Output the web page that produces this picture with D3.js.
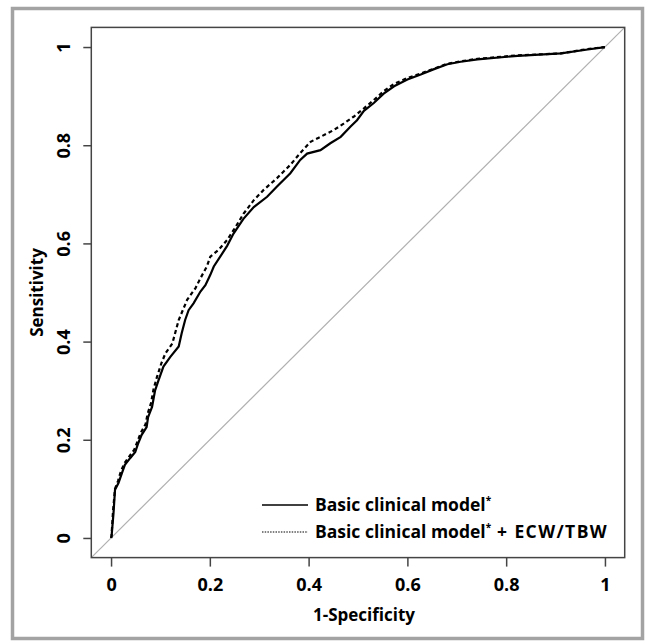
<!DOCTYPE html>
<html>
<head>
<meta charset="utf-8">
<script src="https://cdn.jsdelivr.net/npm/d3@7"></script>
<style>
  body { margin: 0; background: #fff; }
  svg text { font-family: 'Open Sans', sans-serif; font-weight: bold; }
</style>
</head>
<body>
<div id="chart"></div>
<script>
// ROC curves (1-specificity vs sensitivity)
var basicFpr = [0, 0.001, 0.005, 0.008, 0.015, 0.022, 0.028, 0.039, 0.049, 0.055, 0.062, 0.072, 0.075, 0.083, 0.089, 0.095, 0.106, 0.120, 0.137, 0.143, 0.150, 0.157, 0.167, 0.181, 0.191, 0.201, 0.208, 0.221, 0.235, 0.248, 0.268, 0.289, 0.316, 0.336, 0.363, 0.383, 0.397, 0.424, 0.444, 0.465, 0.485, 0.498, 0.512, 0.532, 0.552, 0.573, 0.600, 0.627, 0.654, 0.681, 0.708, 0.742, 0.823, 0.911, 0.965, 1.0];
var basicTpr = [0, 0.003, 0.051, 0.098, 0.112, 0.132, 0.149, 0.163, 0.175, 0.193, 0.210, 0.226, 0.246, 0.267, 0.300, 0.318, 0.349, 0.369, 0.390, 0.417, 0.444, 0.464, 0.478, 0.502, 0.515, 0.536, 0.553, 0.573, 0.595, 0.620, 0.650, 0.674, 0.695, 0.716, 0.743, 0.770, 0.783, 0.790, 0.804, 0.817, 0.838, 0.851, 0.870, 0.886, 0.905, 0.920, 0.934, 0.944, 0.955, 0.965, 0.970, 0.975, 0.982, 0.987, 0.995, 1.0];

var ecwFpr = [0, 0.001, 0.004, 0.008, 0.014, 0.020, 0.027, 0.037, 0.047, 0.054, 0.060, 0.070, 0.074, 0.081, 0.086, 0.093, 0.102, 0.110, 0.124, 0.137, 0.154, 0.171, 0.181, 0.194, 0.201, 0.218, 0.235, 0.250, 0.268, 0.289, 0.309, 0.336, 0.363, 0.383, 0.404, 0.424, 0.451, 0.471, 0.491, 0.512, 0.532, 0.552, 0.573, 0.600, 0.627, 0.654, 0.681, 0.708, 0.742, 0.823, 0.911, 0.965, 1.0];
var ecwTpr = [0, 0.005, 0.055, 0.100, 0.116, 0.136, 0.152, 0.166, 0.180, 0.198, 0.214, 0.232, 0.253, 0.275, 0.303, 0.328, 0.356, 0.376, 0.396, 0.444, 0.485, 0.509, 0.529, 0.553, 0.573, 0.587, 0.607, 0.630, 0.660, 0.688, 0.709, 0.733, 0.760, 0.784, 0.807, 0.817, 0.831, 0.844, 0.858, 0.875, 0.892, 0.910, 0.925, 0.937, 0.946, 0.956, 0.966, 0.971, 0.976, 0.983, 0.987, 0.996, 1.0];

var xTicks = [0, 0.2, 0.4, 0.6, 0.8, 1];
var yTicks = [0, 0.2, 0.4, 0.6, 0.8, 1];
var seriesNames = ['Basic clinical model', 'Basic clinical model'];
var seriesSuffix = ['', ' + ECW/TBW'];

var width = 646, height = 641;
var plot = {left: 91.3, right: 624.7, top: 27.4, bottom: 557.6};

var svg = d3.select('#chart').append('svg')
  .attr('width', width)
  .attr('height', height);

// grey outer frame
svg.append('rect')
  .attr('x', 12.5).attr('y', 8.5)
  .attr('width', 630).attr('height', 630)
  .attr('fill', 'none')
  .attr('stroke', '#a3a3a3')
  .attr('stroke-width', 3.5);

// R style 4% padding on both axes
var x = d3.scaleLinear().domain([-0.04, 1.04]).range([plot.left, plot.right]);
var y = d3.scaleLinear().domain([-0.04, 1.04]).range([plot.bottom, plot.top]);

// chance diagonal
svg.append('line')
  .attr('x1', x(-0.04)).attr('y1', y(-0.04))
  .attr('x2', x(1.04)).attr('y2', y(1.04))
  .attr('stroke', '#b0b0b0')
  .attr('stroke-width', 1.2);

var line = d3.line()
  .x(function(d) { return x(d[0]); })
  .y(function(d) { return y(d[1]); });

svg.append('path')
  .datum(d3.zip(basicFpr, basicTpr))
  .attr('d', line)
  .attr('fill', 'none')
  .attr('stroke', '#000')
  .attr('stroke-width', 2.2);

svg.append('path')
  .datum(d3.zip(ecwFpr, ecwTpr))
  .attr('d', line)
  .attr('fill', 'none')
  .attr('stroke', '#000')
  .attr('stroke-width', 2.2)
  .attr('stroke-dasharray', '4,3');

// plot box
svg.append('rect')
  .attr('x', plot.left).attr('y', plot.top)
  .attr('width', plot.right - plot.left)
  .attr('height', plot.bottom - plot.top)
  .attr('fill', 'none')
  .attr('stroke', '#444')
  .attr('stroke-width', 1.5);

// axes
var xAxis = svg.append('g')
  .attr('transform', 'translate(0,' + plot.bottom + ')')
  .call(d3.axisBottom(x).tickValues(xTicks).tickSize(9).tickPadding(12)
    .tickFormat(function(d) { return d3.format('')(d); }));
xAxis.select('.domain').remove();
xAxis.selectAll('line').attr('stroke', '#444').attr('stroke-width', 1.5);
xAxis.selectAll('text')
  .attr('font-size', '18px')
  .attr('font-family', "'Open Sans', sans-serif")
  .attr('font-weight', 'bold')
  .attr('fill', '#000');

var yAxis = svg.append('g')
  .attr('transform', 'translate(' + plot.left + ',0)')
  .call(d3.axisLeft(y).tickValues(yTicks).tickSize(8)
    .tickFormat(function(d) { return d3.format('')(d); }));
yAxis.select('.domain').remove();
yAxis.selectAll('line').attr('stroke', '#444').attr('stroke-width', 1.5);
yAxis.selectAll('text')
  .attr('x', null)
  .attr('transform', 'translate(-21,0) rotate(-90)')
  .attr('text-anchor', 'middle')
  .attr('dy', '0')
  .attr('font-size', '18px')
  .attr('font-family', "'Open Sans', sans-serif")
  .attr('font-weight', 'bold')
  .attr('fill', '#000');

// axis titles
svg.append('text')
  .attr('x', 364)
  .attr('y', 621)
  .attr('text-anchor', 'middle')
  .attr('font-size', '17px')
  .text('1-Specificity');

svg.append('text')
  .attr('transform', 'translate(43,' + ((plot.top + plot.bottom) / 2) + ') rotate(-90)')
  .attr('text-anchor', 'middle')
  .attr('font-size', '17px')
  .text('Sensitivity');

// legend
var legendY = [505, 532];
var legend = svg.selectAll('g.legend')
  .data(seriesNames)
  .enter()
  .append('g')
  .attr('class', 'legend')
  .attr('transform', function(d, i) { return 'translate(262,' + legendY[i] + ')'; });

legend.append('line')
  .attr('x1', 0).attr('x2', 46)
  .attr('stroke', '#000')
  .attr('stroke-width', function(d, i) { return i ? 1.2 : 1.6; })
  .attr('stroke-dasharray', function(d, i) { return i ? '1.5,1.2' : null; });

var legendText = legend.append('text')
  .attr('x', 53)
  .attr('y', 6)
  .attr('font-size', '17.5px');
legendText.append('tspan').text(function(d) { return d; });
legendText.append('tspan')
  .attr('font-size', '10px')
  .attr('dy', -7)
  .text('*');
legendText.append('tspan')
  .attr('dy', 7)
  .attr('letter-spacing', '1.4px')
  .text(function(d, i) { return seriesSuffix[i]; });
</script>
</body>
</html>
